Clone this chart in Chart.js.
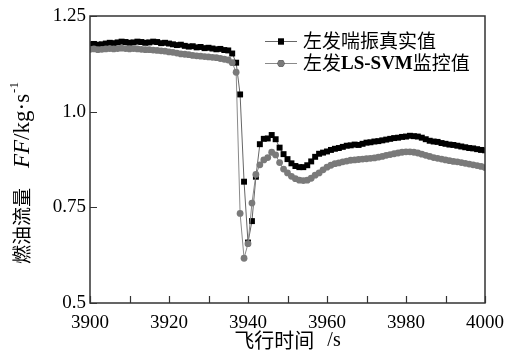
<!DOCTYPE html>
<html>
<head>
<meta charset="utf-8">
<script src="https://cdn.jsdelivr.net/npm/chart.js@4/dist/chart.umd.min.js"></script>
<style>
  html, body { margin: 0; padding: 0; background: #fff; }
  #wrap { width: 528px; height: 353px; }
</style>
</head>
<body>
<div id="wrap"><canvas id="ffChart" width="528" height="353"></canvas></div>
<script>
// flight time (s)
const times = [
  3900, 3901, 3902, 3903, 3904, 3905, 3906, 3907, 3908, 3909,
  3910, 3911, 3912, 3913, 3914, 3915, 3916, 3917, 3918, 3919,
  3920, 3921, 3922, 3923, 3924, 3925, 3926, 3927, 3928, 3929,
  3930, 3931, 3932, 3933, 3934, 3935, 3936, 3937, 3938, 3939,
  3940, 3941, 3942, 3943, 3944, 3945, 3946, 3947, 3948, 3949,
  3950, 3951, 3952, 3953, 3954, 3955, 3956, 3957, 3958, 3959,
  3960, 3961, 3962, 3963, 3964, 3965, 3966, 3967, 3968, 3969,
  3970, 3971, 3972, 3973, 3974, 3975, 3976, 3977, 3978, 3979,
  3980, 3981, 3982, 3983, 3984, 3985, 3986, 3987, 3988, 3989,
  3990, 3991, 3992, 3993, 3994, 3995, 3996, 3997, 3998, 3999,
  4000
];

// 左发喘振真实值
const realFF = [
  1.176, 1.177, 1.175, 1.176, 1.178, 1.180, 1.179, 1.181, 1.183, 1.182,
  1.180, 1.181, 1.183, 1.182, 1.180, 1.181, 1.183, 1.182, 1.179, 1.180,
  1.178, 1.176, 1.174, 1.175, 1.172, 1.170, 1.171, 1.168, 1.169, 1.166,
  1.167, 1.165, 1.163, 1.164, 1.161, 1.160, 1.152, 1.128, 1.045, 0.817,
  0.658, 0.714, 0.830, 0.915, 0.929, 0.930, 0.939, 0.928, 0.906, 0.889,
  0.876, 0.865, 0.858, 0.855, 0.855, 0.860, 0.870, 0.882, 0.890, 0.893,
  0.896, 0.900, 0.903, 0.905, 0.908, 0.911, 0.912, 0.914, 0.913, 0.916,
  0.919, 0.920, 0.922, 0.923, 0.925, 0.927, 0.929, 0.931, 0.932, 0.934,
  0.935, 0.937, 0.936, 0.935, 0.932, 0.928, 0.924, 0.922, 0.921, 0.918,
  0.916, 0.914, 0.913, 0.911, 0.909, 0.907, 0.905, 0.904, 0.902, 0.900,
  0.899
];

// 左发LS-SVM监控值
const svmFF = [
  1.163, 1.164, 1.162, 1.163, 1.164, 1.165, 1.164, 1.165, 1.166, 1.165,
  1.164, 1.165, 1.164, 1.163, 1.162, 1.162, 1.161, 1.160, 1.159, 1.158,
  1.156, 1.155, 1.153, 1.151, 1.150, 1.149, 1.147, 1.146, 1.145, 1.144,
  1.143, 1.142, 1.141, 1.139, 1.137, 1.135, 1.128, 1.103, 0.734, 0.617,
  0.655, 0.761, 0.836, 0.861, 0.874, 0.880, 0.894, 0.887, 0.867, 0.850,
  0.840, 0.831, 0.825, 0.821, 0.820, 0.821, 0.826, 0.834, 0.840, 0.848,
  0.855, 0.860, 0.864, 0.866, 0.869, 0.871, 0.873, 0.874, 0.875, 0.876,
  0.877, 0.878, 0.879, 0.881, 0.883, 0.886, 0.888, 0.890, 0.892, 0.894,
  0.895, 0.895, 0.894, 0.892, 0.889, 0.886, 0.883, 0.880, 0.878, 0.876,
  0.874, 0.872, 0.870, 0.869, 0.867, 0.865, 0.863, 0.861, 0.859, 0.857,
  0.854
];

const seriesNames = ['左发喘振真实值', '左发LS-SVM监控值'];
const yTickValues = [0.5, 0.75, 1.0, 1.25];
const yTickLabels = ['0.5', '0.75', '1.0', '1.25'];

const serif = "'Liberation Serif', 'Noto Sans CJK SC', serif";
const cjk = "'Noto Sans CJK SC', 'Liberation Serif', sans-serif";
const ink = '#000';

// frame, inward ticks, axis titles and legend
const decorPlugin = {
  id: 'decor',
  afterDraw(chart) {
    const ctx = chart.ctx;
    const area = chart.chartArea;
    const xs = chart.scales.x;
    const ys = chart.scales.y;
    ctx.save();

    // box
    ctx.strokeStyle = '#333';
    ctx.lineWidth = 1.5;
    ctx.strokeRect(area.left, area.top, area.right - area.left, area.bottom - area.top);

    // inward ticks
    ctx.lineWidth = 1.2;
    ctx.beginPath();
    for (let t = xs.min; t <= xs.max; t += 10) {
      const px = Math.round(xs.getPixelForValue(t)) + 0.5;
      ctx.moveTo(px, area.bottom);
      ctx.lineTo(px, area.bottom - 7);
    }
    yTickValues.forEach(v => {
      const py = Math.round(ys.getPixelForValue(v)) + 0.5;
      ctx.moveTo(area.left, py);
      ctx.lineTo(area.left + 7, py);
    });
    ctx.stroke();

    // x title
    ctx.fillStyle = ink;
    ctx.textBaseline = 'middle';
    const xt1 = '飞行时间';
    ctx.font = '20px ' + cjk;
    const w1 = ctx.measureText(xt1).width;
    ctx.font = '20px ' + serif;
    const w2 = ctx.measureText('/s').width;
    const gap = 13;
    let sx = (area.left + area.right) / 2 - (w1 + gap + w2) / 2;
    ctx.textAlign = 'left';
    ctx.font = '20px ' + cjk;
    ctx.fillText(xt1, sx, 340);
    ctx.font = '20px ' + serif;
    ctx.fillText('/s', sx + w1 + gap, 341);

    // y title (rotated)
    ctx.save();
    ctx.translate(22, 264);
    ctx.rotate(-Math.PI / 2);
    let cx = 0;
    ctx.font = '19px ' + cjk;
    ctx.fillText('燃油流量', cx, 0);
    cx += ctx.measureText('燃油流量').width + 20;
    ctx.font = 'italic 23px ' + serif;
    ctx.fillText('FF', cx, 1);
    cx += ctx.measureText('FF').width;
    ctx.font = '23px ' + serif;
    ctx.fillText('/kg·s', cx, 1);
    cx += ctx.measureText('/kg·s').width + 1;
    ctx.font = '13px ' + serif;
    ctx.fillText('-1', cx, -7);
    ctx.restore();

    // legend
    const rows = [41, 63];
    chart.data.datasets.forEach((ds, i) => {
      const y = rows[i];
      ctx.strokeStyle = ds.borderColor;
      ctx.lineWidth = 1;
      ctx.beginPath();
      ctx.moveTo(265, y + 0.5);
      ctx.lineTo(297, y + 0.5);
      ctx.stroke();
      Chart.helpers.drawPoint(ctx, {
        pointStyle: ds.pointStyle,
        radius: ds.pointRadius,
        rotation: 0,
        borderWidth: 0
      }, 281, y + 0.5);
      ctx.fillStyle = ds.pointBackgroundColor;
      ctx.fill();
      ctx.fillStyle = ink;
      ctx.textAlign = 'left';
      ctx.textBaseline = 'middle';
      // latin runs in bold serif
      const parts = ds.label.match(/[A-Za-z\-]+|[^A-Za-z\-]+/g);
      let lx = 303;
      parts.forEach(p => {
        if (/[A-Za-z]/.test(p)) {
          ctx.font = 'bold 19px ' + serif;
          ctx.fillText(p, lx, y + 1);
        } else {
          ctx.font = '19px ' + cjk;
          ctx.fillText(p, lx, y);
        }
        lx += ctx.measureText(p).width;
      });
    });

    ctx.restore();
  }
};

const ctx = document.getElementById('ffChart').getContext('2d');
new Chart(ctx, {
  type: 'line',
  data: {
    datasets: [
      {
        label: seriesNames[0],
        data: times.map((t, i) => ({ x: t, y: realFF[i] })),
        borderColor: '#666',
        borderWidth: 1,
        pointStyle: 'rect',
        pointRadius: 4.2,
        pointBackgroundColor: '#000',
        pointBorderColor: '#000',
        pointBorderWidth: 0,
        tension: 0,
        order: 1
      },
      {
        label: seriesNames[1],
        data: times.map((t, i) => ({ x: t, y: svmFF[i] })),
        borderColor: '#8a8a8a',
        borderWidth: 1,
        pointStyle: 'circle',
        pointRadius: 3.4,
        pointBackgroundColor: '#7a7a7a',
        pointBorderColor: '#7a7a7a',
        pointBorderWidth: 0,
        tension: 0,
        order: 0
      }
    ]
  },
  options: {
    responsive: false,
    animation: false,
    layout: { padding: { left: 0, right: 43, top: 16, bottom: 0 } },
    plugins: {
      legend: { display: false },
      tooltip: { enabled: false }
    },
    scales: {
      x: {
        type: 'linear',
        min: 3900,
        max: 4000,
        afterFit: s => { s.height = 50; },
        border: { display: false },
        grid: { display: false, drawTicks: false },
        ticks: {
          stepSize: 20,
          padding: 9,
          maxRotation: 0,
          autoSkip: false,
          color: ink,
          font: { family: serif, size: 19 },
          callback: v => String(v)
        }
      },
      y: {
        min: 0.5,
        max: 1.25,
        afterFit: s => { s.width = 90; },
        afterBuildTicks: s => { s.ticks = yTickValues.map(v => ({ value: v })); },
        border: { display: false },
        grid: { display: false, drawTicks: false },
        ticks: {
          padding: 4,
          color: ink,
          font: { family: serif, size: 19 },
          callback: v => yTickLabels[yTickValues.indexOf(v)]
        }
      }
    }
  },
  plugins: [decorPlugin]
});
</script>
</body>
</html>
